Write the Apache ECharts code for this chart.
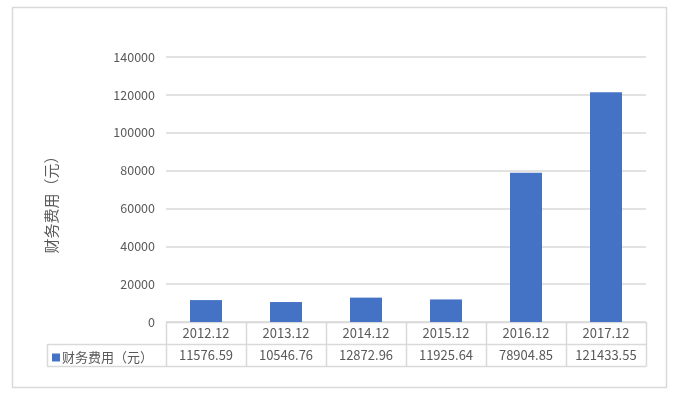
<!DOCTYPE html>
<html><head><meta charset="utf-8">
<script src="https://cdn.jsdelivr.net/npm/echarts@6/dist/echarts.min.js"></script>
<style>html,body{margin:0;padding:0;background:#fff}#c{width:675px;height:396px}</style>
</head><body><div id="c"></div>
<script>
const categories = ['2012.12','2013.12','2014.12','2015.12','2016.12','2017.12'];
const values = [11576.59, 10546.76, 12872.96, 11925.64, 78904.85, 121433.55];
const valueLabels = ['11576.59','10546.76','12872.96','11925.64','78904.85','121433.55'];
const seriesName = '财务费用（元）';
const yTicks = [0, 20000, 40000, 60000, 80000, 100000, 120000, 140000];

const FONT = '"Noto Sans CJK SC", "Noto Sans", sans-serif';
const TXT = '#595959';
const LINE = '#d9d9d9';
const G = {left:166, right:29, top:57, bottom:74};
const W = 675, H = 396;
const x0 = G.left, x1 = W - G.right, yTop = H - G.bottom;
const rowH = 22;
const colW = (x1 - x0) / categories.length;
const rowLeft = 47;

const gfx = [];
gfx.push({type:'rect', shape:{x:12.5,y:7.5,width:654,height:380}, style:{fill:'none',stroke:LINE,lineWidth:1.5}, silent:true});
[yTop, yTop+rowH, yTop+2*rowH].forEach((y,i)=>{
  gfx.push({type:'line', shape:{x1: i===0?x0:rowLeft, y1:y+0.5, x2:x1, y2:y+0.5}, style:{stroke:LINE,lineWidth:1.5}, silent:true});
});
for (let i=0;i<=categories.length;i++){
  const x = Math.round(x0 + i*colW)+0.5;
  gfx.push({type:'line', shape:{x1:x,y1:yTop,x2:x,y2:yTop+2*rowH+0.5}, style:{stroke:LINE,lineWidth:1.5}, silent:true});
}
gfx.push({type:'line', shape:{x1:rowLeft+0.5,y1:yTop+rowH,x2:rowLeft+0.5,y2:yTop+2*rowH+0.5}, style:{stroke:LINE,lineWidth:1.5}, silent:true});
gfx.push({type:'text', x:51, y:201, rotation:Math.PI/2,
  style:{text:seriesName, fill:TXT, fontSize:15, fontFamily:FONT, align:'center', verticalAlign:'middle'}, silent:true});

const chart = echarts.init(document.getElementById('c'));
chart.setOption({
  animation:false,
  backgroundColor:'#fff',
  grid:{left:G.left,right:G.right,top:G.top,bottom:G.bottom},
  legend:{show:true, left:52, top:yTop+rowH+7, padding:0, icon:'rect', itemWidth:8, itemHeight:8, itemGap:2,
    textStyle:{color:TXT, fontSize:13, fontFamily:FONT, padding:[0,0,0,-3]}, data:[seriesName]},
  xAxis:[
    {type:'category', data:categories, axisLine:{show:false}, axisTick:{show:false},
     axisLabel:{color:TXT, fontSize:13, fontFamily:FONT, margin:5, interval:0}},
    {type:'category', data:valueLabels, position:'bottom', offset:rowH, axisLine:{show:false}, axisTick:{show:false},
     axisLabel:{color:TXT, fontSize:13, fontFamily:FONT, margin:5, interval:0}}
  ],
  yAxis:{type:'value', min:yTicks[0], max:yTicks[yTicks.length-1], interval:20000,
    axisLine:{show:false}, axisTick:{show:false},
    axisLabel:{color:TXT, fontSize:12.5, fontFamily:FONT, margin:11, formatter:v=>String(v)},
    splitLine:{lineStyle:{color:LINE, width:1.5}}},
  series:[{name:seriesName, type:'bar', data:values, barWidth:'40%', itemStyle:{color:'#4472C4'}}],
  graphic:gfx
});
</script></body></html>
